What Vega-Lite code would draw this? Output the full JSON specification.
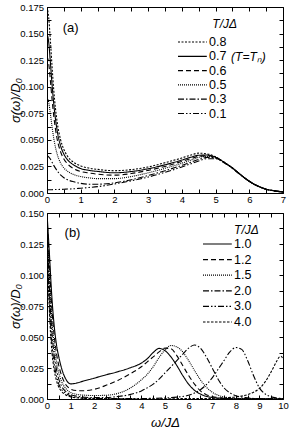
{
"$schema": "https://vega.github.io/schema/vega-lite/v6.json",
"padding": {"left": 9, "top": 1, "right": 4, "bottom": 2},
"spacing": 3,
"config": {"font": "Liberation Sans", "view": {"stroke": "black", "strokeWidth": 1}, "axis": {"domain": false, "grid": false, "tickColor": "black", "labelColor": "black", "titleColor": "black", "tickSize": -4, "labelFlush": false, "labelOverlap": false, "labelBound": false, "labelFontSize": 9.5, "titleFontWeight": "normal", "titleFontStyle": "italic", "titleFontSize": 13}, "legend": {"orient": "none", "padding": 0, "title": null, "labelColor": "black", "labelFontSize": 12.5, "symbolType": "M-1,0H3.8", "symbolSize": 144, "symbolStrokeWidth": 1.2, "symbolStrokeColor": "black", "symbolFillColor": "transparent", "symbolOpacity": 1, "labelOffset": 18}},
"datasets": {
"a": [
{"T":"0.8","w":0,"s":0.175},{"T":"0.8","w":0.05,"s":0.165},{"T":"0.8","w":0.1,"s":0.1435},{"T":"0.8","w":0.15,"s":0.119},{"T":"0.8","w":0.2,"s":0.097},{"T":"0.8","w":0.3,"s":0.067},{"T":"0.8","w":0.4,"s":0.0505},{"T":"0.8","w":0.5,"s":0.041},{"T":"0.8","w":0.6,"s":0.035},{"T":"0.8","w":0.8,"s":0.0286},{"T":"0.8","w":1.0,"s":0.0255},{"T":"0.8","w":1.25,"s":0.0234},{"T":"0.8","w":1.5,"s":0.0222},{"T":"0.8","w":2.0,"s":0.021},{"T":"0.8","w":2.5,"s":0.022},{"T":"0.8","w":3.0,"s":0.0245},{"T":"0.8","w":3.5,"s":0.0285},{"T":"0.8","w":4.0,"s":0.033},{"T":"0.8","w":4.25,"s":0.0355},{"T":"0.8","w":4.5,"s":0.0375},{"T":"0.8","w":4.75,"s":0.0368},{"T":"0.8","w":5.0,"s":0.034},{"T":"0.8","w":5.25,"s":0.029},{"T":"0.8","w":5.5,"s":0.0235},{"T":"0.8","w":5.75,"s":0.017},{"T":"0.8","w":6.0,"s":0.011},{"T":"0.8","w":6.25,"s":0.0066},{"T":"0.8","w":6.5,"s":0.0036},{"T":"0.8","w":6.75,"s":0.002},{"T":"0.8","w":7.0,"s":0.001},
{"T":"0.7","w":0,"s":0.150},{"T":"0.7","w":0.05,"s":0.142},{"T":"0.7","w":0.1,"s":0.123},{"T":"0.7","w":0.15,"s":0.102},{"T":"0.7","w":0.2,"s":0.084},{"T":"0.7","w":0.3,"s":0.059},{"T":"0.7","w":0.4,"s":0.0447},{"T":"0.7","w":0.5,"s":0.0366},{"T":"0.7","w":0.6,"s":0.0316},{"T":"0.7","w":0.8,"s":0.0262},{"T":"0.7","w":1.0,"s":0.023},{"T":"0.7","w":1.25,"s":0.0213},{"T":"0.7","w":1.5,"s":0.0203},{"T":"0.7","w":2.0,"s":0.019},{"T":"0.7","w":2.5,"s":0.0202},{"T":"0.7","w":3.0,"s":0.0228},{"T":"0.7","w":3.5,"s":0.0265},{"T":"0.7","w":4.0,"s":0.031},{"T":"0.7","w":4.25,"s":0.0335},{"T":"0.7","w":4.5,"s":0.0355},{"T":"0.7","w":4.75,"s":0.0357},{"T":"0.7","w":5.0,"s":0.0337},{"T":"0.7","w":5.25,"s":0.029},{"T":"0.7","w":5.5,"s":0.0235},{"T":"0.7","w":5.75,"s":0.017},{"T":"0.7","w":6.0,"s":0.011},{"T":"0.7","w":6.25,"s":0.0066},{"T":"0.7","w":6.5,"s":0.0036},{"T":"0.7","w":6.75,"s":0.002},{"T":"0.7","w":7.0,"s":0.001},
{"T":"0.6","w":0,"s":0.1285},{"T":"0.6","w":0.05,"s":0.122},{"T":"0.6","w":0.1,"s":0.106},{"T":"0.6","w":0.15,"s":0.088},{"T":"0.6","w":0.2,"s":0.0725},{"T":"0.6","w":0.3,"s":0.051},{"T":"0.6","w":0.4,"s":0.039},{"T":"0.6","w":0.5,"s":0.032},{"T":"0.6","w":0.6,"s":0.0277},{"T":"0.6","w":0.8,"s":0.0228},{"T":"0.6","w":1.0,"s":0.0203},{"T":"0.6","w":1.25,"s":0.0188},{"T":"0.6","w":1.5,"s":0.0177},{"T":"0.6","w":2.0,"s":0.0168},{"T":"0.6","w":2.5,"s":0.0183},{"T":"0.6","w":3.0,"s":0.0213},{"T":"0.6","w":3.5,"s":0.025},{"T":"0.6","w":4.0,"s":0.0297},{"T":"0.6","w":4.25,"s":0.0322},{"T":"0.6","w":4.5,"s":0.0345},{"T":"0.6","w":4.75,"s":0.035},{"T":"0.6","w":5.0,"s":0.0335},{"T":"0.6","w":5.25,"s":0.029},{"T":"0.6","w":5.5,"s":0.0235},{"T":"0.6","w":5.75,"s":0.017},{"T":"0.6","w":6.0,"s":0.011},{"T":"0.6","w":6.25,"s":0.0066},{"T":"0.6","w":6.5,"s":0.0036},{"T":"0.6","w":6.75,"s":0.002},{"T":"0.6","w":7.0,"s":0.001},
{"T":"0.5","w":0,"s":0.090},{"T":"0.5","w":0.05,"s":0.0855},{"T":"0.5","w":0.1,"s":0.0746},{"T":"0.5","w":0.15,"s":0.0623},{"T":"0.5","w":0.2,"s":0.0515},{"T":"0.5","w":0.3,"s":0.0367},{"T":"0.5","w":0.4,"s":0.0284},{"T":"0.5","w":0.5,"s":0.0236},{"T":"0.5","w":0.6,"s":0.0207},{"T":"0.5","w":0.8,"s":0.0173},{"T":"0.5","w":1.0,"s":0.0155},{"T":"0.5","w":1.25,"s":0.0142},{"T":"0.5","w":1.5,"s":0.0135},{"T":"0.5","w":2.0,"s":0.0135},{"T":"0.5","w":2.5,"s":0.0155},{"T":"0.5","w":3.0,"s":0.019},{"T":"0.5","w":3.5,"s":0.0232},{"T":"0.5","w":4.0,"s":0.028},{"T":"0.5","w":4.25,"s":0.0307},{"T":"0.5","w":4.5,"s":0.0335},{"T":"0.5","w":4.75,"s":0.0345},{"T":"0.5","w":5.0,"s":0.0333},{"T":"0.5","w":5.25,"s":0.0289},{"T":"0.5","w":5.5,"s":0.0235},{"T":"0.5","w":5.75,"s":0.017},{"T":"0.5","w":6.0,"s":0.011},{"T":"0.5","w":6.25,"s":0.0066},{"T":"0.5","w":6.5,"s":0.0036},{"T":"0.5","w":6.75,"s":0.002},{"T":"0.5","w":7.0,"s":0.001},
{"T":"0.3","w":0,"s":0.035},{"T":"0.3","w":0.05,"s":0.034},{"T":"0.3","w":0.1,"s":0.032},{"T":"0.3","w":0.15,"s":0.029},{"T":"0.3","w":0.2,"s":0.026},{"T":"0.3","w":0.3,"s":0.021},{"T":"0.3","w":0.4,"s":0.017},{"T":"0.3","w":0.5,"s":0.0144},{"T":"0.3","w":0.6,"s":0.0126},{"T":"0.3","w":0.8,"s":0.0105},{"T":"0.3","w":1.0,"s":0.0091},{"T":"0.3","w":1.25,"s":0.0083},{"T":"0.3","w":1.5,"s":0.0083},{"T":"0.3","w":2.0,"s":0.0095},{"T":"0.3","w":2.5,"s":0.0125},{"T":"0.3","w":3.0,"s":0.0165},{"T":"0.3","w":3.5,"s":0.021},{"T":"0.3","w":4.0,"s":0.026},{"T":"0.3","w":4.25,"s":0.0288},{"T":"0.3","w":4.5,"s":0.0315},{"T":"0.3","w":4.75,"s":0.0335},{"T":"0.3","w":5.0,"s":0.033},{"T":"0.3","w":5.25,"s":0.0287},{"T":"0.3","w":5.5,"s":0.0234},{"T":"0.3","w":5.75,"s":0.017},{"T":"0.3","w":6.0,"s":0.011},{"T":"0.3","w":6.25,"s":0.0066},{"T":"0.3","w":6.5,"s":0.0036},{"T":"0.3","w":6.75,"s":0.002},{"T":"0.3","w":7.0,"s":0.001},
{"T":"0.1","w":0,"s":0.003},{"T":"0.1","w":0.05,"s":0.003},{"T":"0.1","w":0.1,"s":0.003},{"T":"0.1","w":0.15,"s":0.0031},{"T":"0.1","w":0.2,"s":0.0032},{"T":"0.1","w":0.3,"s":0.0033},{"T":"0.1","w":0.4,"s":0.0034},{"T":"0.1","w":0.5,"s":0.0035},{"T":"0.1","w":0.6,"s":0.0037},{"T":"0.1","w":0.8,"s":0.004},{"T":"0.1","w":1.0,"s":0.0045},{"T":"0.1","w":1.25,"s":0.0052},{"T":"0.1","w":1.5,"s":0.006},{"T":"0.1","w":2.0,"s":0.0085},{"T":"0.1","w":2.5,"s":0.0115},{"T":"0.1","w":3.0,"s":0.015},{"T":"0.1","w":3.5,"s":0.0195},{"T":"0.1","w":4.0,"s":0.0245},{"T":"0.1","w":4.25,"s":0.0273},{"T":"0.1","w":4.5,"s":0.0302},{"T":"0.1","w":4.75,"s":0.0322},{"T":"0.1","w":5.0,"s":0.0322},{"T":"0.1","w":5.25,"s":0.0285},{"T":"0.1","w":5.5,"s":0.0232},{"T":"0.1","w":5.75,"s":0.0168},{"T":"0.1","w":6.0,"s":0.011},{"T":"0.1","w":6.25,"s":0.0065},{"T":"0.1","w":6.5,"s":0.0036},{"T":"0.1","w":6.75,"s":0.002},{"T":"0.1","w":7.0,"s":0.001}
],
"b": [
{"T":"1.0","w":0,"s":0.150},{"T":"1.0","w":0.1,"s":0.118},{"T":"1.0","w":0.2,"s":0.084},{"T":"1.0","w":0.3,"s":0.060},{"T":"1.0","w":0.4,"s":0.044},{"T":"1.0","w":0.5,"s":0.034},{"T":"1.0","w":0.6,"s":0.026},{"T":"1.0","w":0.7,"s":0.020},{"T":"1.0","w":0.8,"s":0.016},{"T":"1.0","w":0.9,"s":0.0132},{"T":"1.0","w":1.0,"s":0.0122},{"T":"1.0","w":1.25,"s":0.0128},{"T":"1.0","w":1.5,"s":0.0142},{"T":"1.0","w":2.0,"s":0.0168},{"T":"1.0","w":2.5,"s":0.0195},{"T":"1.0","w":3.0,"s":0.022},{"T":"1.0","w":3.5,"s":0.025},{"T":"1.0","w":4.0,"s":0.029},{"T":"1.0","w":4.25,"s":0.0325},{"T":"1.0","w":4.5,"s":0.0375},{"T":"1.0","w":4.75,"s":0.0408},{"T":"1.0","w":5.0,"s":0.039},{"T":"1.0","w":5.25,"s":0.034},{"T":"1.0","w":5.5,"s":0.027},{"T":"1.0","w":5.75,"s":0.019},{"T":"1.0","w":6.0,"s":0.012},{"T":"1.0","w":6.25,"s":0.007},{"T":"1.0","w":6.5,"s":0.004},{"T":"1.0","w":7.0,"s":0.0012},{"T":"1.0","w":7.5,"s":0.0004},{"T":"1.0","w":8.0,"s":0.0002},{"T":"1.0","w":9.0,"s":0.0001},{"T":"1.0","w":10.0,"s":0},
{"T":"1.2","w":0,"s":0.146},{"T":"1.2","w":0.1,"s":0.110},{"T":"1.2","w":0.2,"s":0.075},{"T":"1.2","w":0.3,"s":0.052},{"T":"1.2","w":0.4,"s":0.037},{"T":"1.2","w":0.5,"s":0.027},{"T":"1.2","w":0.6,"s":0.020},{"T":"1.2","w":0.7,"s":0.015},{"T":"1.2","w":0.8,"s":0.0115},{"T":"1.2","w":0.9,"s":0.0093},{"T":"1.2","w":1.0,"s":0.008},{"T":"1.2","w":1.25,"s":0.0068},{"T":"1.2","w":1.5,"s":0.0066},{"T":"1.2","w":2.0,"s":0.0078},{"T":"1.2","w":2.5,"s":0.011},{"T":"1.2","w":3.0,"s":0.015},{"T":"1.2","w":3.5,"s":0.020},{"T":"1.2","w":4.0,"s":0.026},{"T":"1.2","w":4.25,"s":0.030},{"T":"1.2","w":4.5,"s":0.034},{"T":"1.2","w":4.75,"s":0.038},{"T":"1.2","w":5.0,"s":0.041},{"T":"1.2","w":5.25,"s":0.0405},{"T":"1.2","w":5.5,"s":0.035},{"T":"1.2","w":5.75,"s":0.027},{"T":"1.2","w":6.0,"s":0.019},{"T":"1.2","w":6.25,"s":0.012},{"T":"1.2","w":6.5,"s":0.0065},{"T":"1.2","w":6.75,"s":0.0035},{"T":"1.2","w":7.0,"s":0.002},{"T":"1.2","w":7.5,"s":0.0006},{"T":"1.2","w":8.0,"s":0.0002},{"T":"1.2","w":9.0,"s":0.0001},{"T":"1.2","w":10.0,"s":0},
{"T":"1.5","w":0,"s":0.142},{"T":"1.5","w":0.1,"s":0.100},{"T":"1.5","w":0.2,"s":0.066},{"T":"1.5","w":0.3,"s":0.044},{"T":"1.5","w":0.4,"s":0.030},{"T":"1.5","w":0.5,"s":0.021},{"T":"1.5","w":0.6,"s":0.015},{"T":"1.5","w":0.7,"s":0.011},{"T":"1.5","w":0.8,"s":0.0083},{"T":"1.5","w":0.9,"s":0.0065},{"T":"1.5","w":1.0,"s":0.0053},{"T":"1.5","w":1.25,"s":0.0038},{"T":"1.5","w":1.5,"s":0.0032},{"T":"1.5","w":2.0,"s":0.0028},{"T":"1.5","w":2.5,"s":0.003},{"T":"1.5","w":3.0,"s":0.0045},{"T":"1.5","w":3.5,"s":0.0085},{"T":"1.5","w":4.0,"s":0.0155},{"T":"1.5","w":4.25,"s":0.020},{"T":"1.5","w":4.5,"s":0.026},{"T":"1.5","w":4.75,"s":0.0335},{"T":"1.5","w":5.0,"s":0.0395},{"T":"1.5","w":5.25,"s":0.0432},{"T":"1.5","w":5.5,"s":0.042},{"T":"1.5","w":5.75,"s":0.038},{"T":"1.5","w":6.0,"s":0.031},{"T":"1.5","w":6.25,"s":0.023},{"T":"1.5","w":6.5,"s":0.0155},{"T":"1.5","w":6.75,"s":0.0095},{"T":"1.5","w":7.0,"s":0.0055},{"T":"1.5","w":7.25,"s":0.003},{"T":"1.5","w":7.5,"s":0.0017},{"T":"1.5","w":8.0,"s":0.0005},{"T":"1.5","w":9.0,"s":0.0002},{"T":"1.5","w":10.0,"s":0.0001},
{"T":"2.0","w":0,"s":0.138},{"T":"2.0","w":0.1,"s":0.090},{"T":"2.0","w":0.2,"s":0.056},{"T":"2.0","w":0.3,"s":0.036},{"T":"2.0","w":0.4,"s":0.024},{"T":"2.0","w":0.5,"s":0.016},{"T":"2.0","w":0.6,"s":0.011},{"T":"2.0","w":0.7,"s":0.008},{"T":"2.0","w":0.8,"s":0.006},{"T":"2.0","w":0.9,"s":0.0047},{"T":"2.0","w":1.0,"s":0.0037},{"T":"2.0","w":1.25,"s":0.0023},{"T":"2.0","w":1.5,"s":0.0016},{"T":"2.0","w":2.0,"s":0.0011},{"T":"2.0","w":2.5,"s":0.0012},{"T":"2.0","w":3.0,"s":0.002},{"T":"2.0","w":3.5,"s":0.0035},{"T":"2.0","w":4.0,"s":0.0065},{"T":"2.0","w":4.25,"s":0.009},{"T":"2.0","w":4.5,"s":0.012},{"T":"2.0","w":4.75,"s":0.016},{"T":"2.0","w":5.0,"s":0.021},{"T":"2.0","w":5.25,"s":0.026},{"T":"2.0","w":5.5,"s":0.031},{"T":"2.0","w":5.75,"s":0.036},{"T":"2.0","w":6.0,"s":0.041},{"T":"2.0","w":6.25,"s":0.0435},{"T":"2.0","w":6.5,"s":0.041},{"T":"2.0","w":6.75,"s":0.034},{"T":"2.0","w":7.0,"s":0.025},{"T":"2.0","w":7.25,"s":0.016},{"T":"2.0","w":7.5,"s":0.009},{"T":"2.0","w":7.75,"s":0.005},{"T":"2.0","w":8.0,"s":0.0027},{"T":"2.0","w":8.5,"s":0.0009},{"T":"2.0","w":9.0,"s":0.0003},{"T":"2.0","w":10.0,"s":0.0001},
{"T":"3.0","w":0,"s":0.134},{"T":"3.0","w":0.1,"s":0.080},{"T":"3.0","w":0.2,"s":0.047},{"T":"3.0","w":0.3,"s":0.029},{"T":"3.0","w":0.4,"s":0.019},{"T":"3.0","w":0.5,"s":0.012},{"T":"3.0","w":0.6,"s":0.0082},{"T":"3.0","w":0.7,"s":0.006},{"T":"3.0","w":0.8,"s":0.0045},{"T":"3.0","w":1.0,"s":0.0025},{"T":"3.0","w":1.5,"s":0.0009},{"T":"3.0","w":2.0,"s":0.0005},{"T":"3.0","w":3.0,"s":0.0003},{"T":"3.0","w":4.0,"s":0.0004},{"T":"3.0","w":5.0,"s":0.0008},{"T":"3.0","w":5.5,"s":0.0015},{"T":"3.0","w":6.0,"s":0.003},{"T":"3.0","w":6.25,"s":0.0048},{"T":"3.0","w":6.5,"s":0.0075},{"T":"3.0","w":6.75,"s":0.0115},{"T":"3.0","w":7.0,"s":0.017},{"T":"3.0","w":7.25,"s":0.024},{"T":"3.0","w":7.5,"s":0.031},{"T":"3.0","w":7.75,"s":0.038},{"T":"3.0","w":8.0,"s":0.0415},{"T":"3.0","w":8.25,"s":0.040},{"T":"3.0","w":8.5,"s":0.031},{"T":"3.0","w":8.75,"s":0.019},{"T":"3.0","w":9.0,"s":0.009},{"T":"3.0","w":9.25,"s":0.004},{"T":"3.0","w":9.5,"s":0.0017},{"T":"3.0","w":9.75,"s":0.0008},{"T":"3.0","w":10.0,"s":0.0004},
{"T":"4.0","w":0,"s":0.130},{"T":"4.0","w":0.1,"s":0.072},{"T":"4.0","w":0.2,"s":0.040},{"T":"4.0","w":0.3,"s":0.024},{"T":"4.0","w":0.4,"s":0.015},{"T":"4.0","w":0.5,"s":0.0095},{"T":"4.0","w":0.6,"s":0.0065},{"T":"4.0","w":0.8,"s":0.0032},{"T":"4.0","w":1.0,"s":0.0017},{"T":"4.0","w":1.5,"s":0.0006},{"T":"4.0","w":2.0,"s":0.0003},{"T":"4.0","w":4.0,"s":0.0002},{"T":"4.0","w":6.0,"s":0.0003},{"T":"4.0","w":7.0,"s":0.0005},{"T":"4.0","w":7.5,"s":0.0009},{"T":"4.0","w":8.0,"s":0.0017},{"T":"4.0","w":8.5,"s":0.0035},{"T":"4.0","w":8.75,"s":0.0055},{"T":"4.0","w":9.0,"s":0.0085},{"T":"4.0","w":9.25,"s":0.014},{"T":"4.0","w":9.5,"s":0.022},{"T":"4.0","w":9.75,"s":0.031},{"T":"4.0","w":9.85,"s":0.034},{"T":"4.0","w":9.92,"s":0.0345},{"T":"4.0","w":10.0,"s":0.032}
]
},
"resolve": {"scale": {"strokeDash": "independent"}, "legend": {"strokeDash": "independent"}},
"vconcat": [
{
"width": 236, "height": 186,
"layer": [
{"data": {"name": "a"},
 "mark": {"type": "line", "interpolate": "monotone", "strokeWidth": 1.1, "color": "black", "clip": true},
 "encoding": {
  "x": {"field": "w", "type": "quantitative", "scale": {"domain": [0, 7], "nice": false},
        "axis": {"orient": "bottom", "title": null, "values": [0,0.5,1,1.5,2,2.5,3,3.5,4,4.5,5,5.5,6,6.5,7], "labelExpr": "datum.value % 1 === 0 ? format(datum.value, 'd') : ''", "labelPadding": 5}},
  "y": {"field": "s", "type": "quantitative", "scale": {"domain": [0, 0.175], "nice": false},
        "axis": {"orient": "left", "title": "σ(ω)/D₀", "values": [0,0.0125,0.025,0.0375,0.05,0.0625,0.075,0.0875,0.1,0.1125,0.125,0.1375,0.15,0.1625,0.175], "labelExpr": "abs(datum.value*40 - round(datum.value*40)) < 0.01 ? format(datum.value, '.3f') : ''", "labelPadding": 7.5, "titlePadding": -3}},
  "strokeDash": {"field": "T", "type": "nominal",
        "scale": {"domain": ["0.8","0.7","0.6","0.5","0.3","0.1"], "range": [[2,1.5],[1,0],[5,3],[1,1],[6,2,1.5,2],[6,2,1.5,2,1.5,2]]},
        "legend": {"legendX": 130, "legendY": 28, "rowPadding": 0.3}}
 }},
{"data": {"values": [{"t": "(a)"}]},
 "mark": {"type": "text", "fontSize": 13, "align": "center", "baseline": "middle", "color": "black"},
 "encoding": {
  "x": {"datum": 0.7, "type": "quantitative", "axis": {"orient": "top", "title": null, "labels": false, "values": [0,0.5,1,1.5,2,2.5,3,3.5,4,4.5,5,5.5,6,6.5,7]}},
  "y": {"datum": 0.155, "type": "quantitative", "axis": {"orient": "right", "title": null, "labels": false, "values": [0,0.0125,0.025,0.0375,0.05,0.0625,0.075,0.0875,0.1,0.1125,0.125,0.1375,0.15,0.1625,0.175]}},
  "text": {"field": "t"}
 }},
{"data": {"values": [{"t": "(T=Tₙ)"}]},
 "mark": {"type": "text", "fontSize": 12, "fontStyle": "italic", "align": "left", "baseline": "middle", "color": "black"},
 "encoding": {
  "x": {"datum": 5.46, "type": "quantitative", "axis": null},
  "y": {"datum": 0.128, "type": "quantitative", "axis": null},
  "text": {"field": "t"}
 }},
{"data": {"values": [{"t": "T/JΔ"}]},
 "mark": {"type": "text", "fontSize": 12, "fontStyle": "italic", "align": "center", "baseline": "middle", "color": "black"},
 "encoding": {
  "x": {"datum": 5.27, "type": "quantitative", "axis": null},
  "y": {"datum": 0.1587, "type": "quantitative", "axis": null},
  "text": {"field": "t"}
 }}
]
},
{
"width": 236, "height": 186,
"layer": [
{"data": {"name": "b"},
 "mark": {"type": "line", "interpolate": "monotone", "strokeWidth": 1.1, "color": "black", "clip": true},
 "encoding": {
  "x": {"field": "w", "type": "quantitative", "scale": {"domain": [0, 10], "nice": false},
        "axis": {"orient": "bottom", "title": "ω/JΔ", "titlePadding": 7, "values": [0,0.5,1,1.5,2,2.5,3,3.5,4,4.5,5,5.5,6,6.5,7,7.5,8,8.5,9,9.5,10], "labelExpr": "datum.value % 1 === 0 ? format(datum.value, 'd') : ''", "labelPadding": 5}},
  "y": {"field": "s", "type": "quantitative", "scale": {"domain": [0, 0.15], "nice": false},
        "axis": {"orient": "left", "title": "σ(ω)/D₀", "values": [0,0.0125,0.025,0.0375,0.05,0.0625,0.075,0.0875,0.1,0.1125,0.125,0.1375,0.15], "labelExpr": "abs(datum.value*40 - round(datum.value*40)) < 0.01 ? format(datum.value, '.3f') : ''", "labelPadding": 7.5, "titlePadding": -3}},
  "strokeDash": {"field": "T", "type": "nominal",
        "scale": {"domain": ["1.0","1.2","1.5","2.0","3.0","4.0"], "range": [[1,0],[5,3],[1,1],[6,2,1.5,2],[6,2,1.5,2,1.5,2],[2.5,1.5]]},
        "legend": {"legendX": 155, "legendY": 24, "rowPadding": 1.6}}
 }},
{"data": {"values": [{"t": "(b)"}]},
 "mark": {"type": "text", "fontSize": 13, "align": "center", "baseline": "middle", "color": "black"},
 "encoding": {
  "x": {"datum": 1.08, "type": "quantitative", "axis": {"orient": "top", "title": null, "labels": false, "values": [0,0.5,1,1.5,2,2.5,3,3.5,4,4.5,5,5.5,6,6.5,7,7.5,8,8.5,9,9.5,10]}},
  "y": {"datum": 0.134, "type": "quantitative", "axis": {"orient": "right", "title": null, "labels": false, "values": [0,0.0125,0.025,0.0375,0.05,0.0625,0.075,0.0875,0.1,0.1125,0.125,0.1375,0.15]}},
  "text": {"field": "t"}
 }},
{"data": {"values": [{"t": "T/JΔ"}]},
 "mark": {"type": "text", "fontSize": 12, "fontStyle": "italic", "align": "center", "baseline": "middle", "color": "black"},
 "encoding": {
  "x": {"datum": 8.45, "type": "quantitative", "axis": null},
  "y": {"datum": 0.1363, "type": "quantitative", "axis": null},
  "text": {"field": "t"}
 }}
]
}
]
}
